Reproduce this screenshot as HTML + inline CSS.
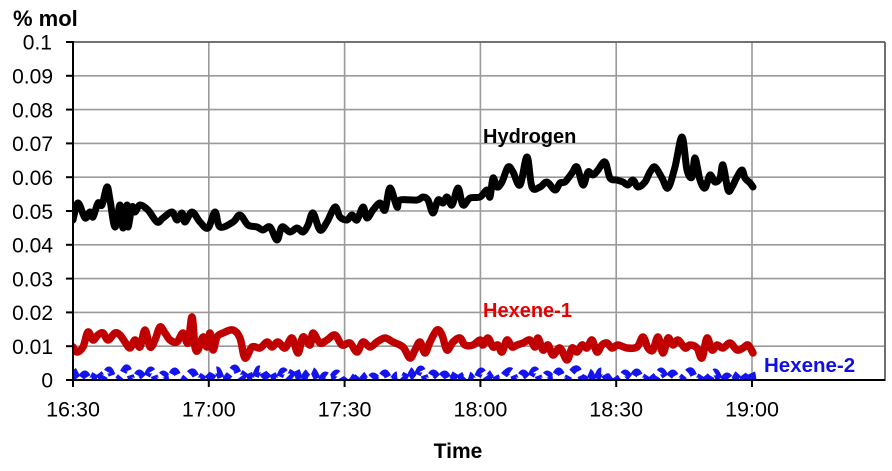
<!DOCTYPE html>
<html><head><meta charset="utf-8"><style>
html,body{margin:0;padding:0;background:#fff;}
svg{display:block;}
text{font-family:"Liberation Sans",Arial,sans-serif;}
</style></head><body>
<svg id="c" width="892" height="471" viewBox="0 0 892 471" xmlns="http://www.w3.org/2000/svg">
<defs><clipPath id="pa"><rect x="73" y="42" width="812" height="338"/></clipPath></defs>
<!-- gridlines -->
<g stroke="#9a9a9a" stroke-width="1.6" fill="none">
<line x1="73" y1="42" x2="885" y2="42"/>
<line x1="73" y1="75.8" x2="885" y2="75.8"/>
<line x1="73" y1="109.6" x2="885" y2="109.6"/>
<line x1="73" y1="143.4" x2="885" y2="143.4"/>
<line x1="73" y1="177.2" x2="885" y2="177.2"/>
<line x1="73" y1="211" x2="885" y2="211"/>
<line x1="73" y1="244.8" x2="885" y2="244.8"/>
<line x1="73" y1="278.6" x2="885" y2="278.6"/>
<line x1="73" y1="312.4" x2="885" y2="312.4"/>
<line x1="73" y1="346.2" x2="885" y2="346.2"/>
<line x1="208.8" y1="42" x2="208.8" y2="380"/>
<line x1="344.6" y1="42" x2="344.6" y2="380"/>
<line x1="480.4" y1="42" x2="480.4" y2="380"/>
<line x1="616.2" y1="42" x2="616.2" y2="380"/>
<line x1="752" y1="42" x2="752" y2="380"/>
</g>
<line x1="885" y1="42" x2="885" y2="381" stroke="#707070" stroke-width="2"/>
<line x1="73" y1="42" x2="885" y2="42" stroke="#555" stroke-width="1.5"/>
<!-- series -->
<g clip-path="url(#pa)" fill="none" stroke-linejoin="round" stroke-linecap="round">
<polyline class="sm" stroke="#1414f0" stroke-width="7" stroke-linecap="butt" stroke-dasharray="9 5" points="73,370 79,379 85,374 91,381 97,372 103,378 109,370 115,381 121,376 127,368 133,381 139,373 145,378 151,370 157,381 163,374 169,378 175,371 181,381 187,376 193,372 199,381 205,373 211,377 217,370 223,381 229,375 235,368 241,378 247,371 253,381 259,369 265,376 271,372 277,381 283,371 289,377 295,369 301,381 307,373 313,371 319,381 325,375 331,378 337,373 343,381 349,376 355,379 361,374 367,381 373,376 379,379 385,373 391,381 397,375 403,379 409,370 415,378 421,369 427,381 433,373 439,378 445,374 451,381 457,372 463,379 469,375 475,381 481,371 487,378 493,373 499,381 505,374 511,371 517,381 523,373 529,378 535,370 541,381 547,374 553,378 559,371 565,381 571,373 577,369 583,379 589,372 595,381 601,371 607,378 613,375 619,381 625,373 631,378 637,372 643,381 649,374 655,379 661,371 667,378 673,373 679,381 685,375 691,371 697,381 703,374 709,379 715,372 721,381 727,376 733,381 739,373 745,378 751,372 753,380"/>
<polyline class="sm" stroke="#c00000" stroke-width="7.5" points="73,347 77,352 83,347 88,332 93,340 98,335 103,333 108,340 115,333 120,335 125,342 130,348 135,340 140,347 145,330 150,347 155,340 160,327 165,333 170,340 177,342 183,333 188,343 192,317 195,347 198,350 203,337 207,347 210,333 213,350 217,337 223,333 233,330 240,338 245,358 252,347 260,348 267,342 272,347 278,342 285,348 292,338 298,353 303,337 310,345 313,333 320,343 327,340 335,335 342,345 350,343 357,352 363,342 370,347 377,342 385,338 393,342 403,347 410,358 415,350 420,342 425,353 430,342 437,330 442,335 447,350 453,342 460,338 465,345 473,345 480,340 483,345 488,338 493,347 498,345 502,352 507,340 512,347 517,345 523,343 530,340 535,347 538,338 543,350 548,345 553,355 560,348 567,360 572,348 577,352 582,345 587,348 592,340 597,352 602,345 607,343 612,348 618,345 627,348 637,347 643,337 648,348 653,350 658,337 663,353 668,338 673,345 678,340 685,348 690,345 697,348 702,358 707,338 712,350 717,345 723,348 730,343 737,350 743,348 748,345 753,353"/>
<polyline class="sm" stroke="#000" stroke-width="7" points="73,220 78,203 85,218 90,212 93,217 98,203 102,205 107,187 110,200 115,227 120,205 123,228 127,205 128,227 132,207 135,212 140,205 148,210 157,222 163,218 172,212 177,220 182,213 185,222 192,212 200,222 208,228 215,212 220,227 233,222 240,215 248,225 257,227 263,230 270,227 277,240 282,227 290,232 297,228 303,232 308,225 313,213 320,230 327,222 335,207 340,217 347,220 352,215 357,220 363,207 367,218 373,210 380,203 385,210 390,188 397,207 400,200 417,200 423,197 428,200 433,213 438,200 443,203 447,197 452,205 458,188 463,205 470,198 480,197 487,190 490,197 493,178 497,187 502,182 508,167 513,172 520,185 527,157 532,187 540,187 547,182 555,190 560,183 565,182 572,173 577,167 583,185 588,172 593,175 598,170 605,162 610,178 617,180 623,182 628,185 633,180 638,187 645,182 650,172 655,167 662,178 668,188 675,167 682,137 687,170 692,177 695,158 700,180 705,188 710,175 715,182 720,178 723,165 728,190 732,187 737,177 742,170 745,178 750,183 753,187"/>
</g>
<!-- axes -->
<g stroke="#000" stroke-width="2" fill="none">
<line x1="73" y1="41" x2="73" y2="381"/>
<line x1="66" y1="380" x2="885" y2="380"/>
<line x1="66" y1="42" x2="73" y2="42"/>
<line x1="66" y1="75.8" x2="73" y2="75.8"/>
<line x1="66" y1="109.6" x2="73" y2="109.6"/>
<line x1="66" y1="143.4" x2="73" y2="143.4"/>
<line x1="66" y1="177.2" x2="73" y2="177.2"/>
<line x1="66" y1="211" x2="73" y2="211"/>
<line x1="66" y1="244.8" x2="73" y2="244.8"/>
<line x1="66" y1="278.6" x2="73" y2="278.6"/>
<line x1="66" y1="312.4" x2="73" y2="312.4"/>
<line x1="66" y1="346.2" x2="73" y2="346.2"/>
<line x1="73" y1="380" x2="73" y2="387"/>
<line x1="208.8" y1="380" x2="208.8" y2="387"/>
<line x1="344.6" y1="380" x2="344.6" y2="387"/>
<line x1="480.4" y1="380" x2="480.4" y2="387"/>
<line x1="616.2" y1="380" x2="616.2" y2="387"/>
<line x1="752" y1="380" x2="752" y2="387"/>
</g>
<!-- y labels -->
<g font-size="21" fill="#000" text-anchor="end">
<text x="52" y="49.5">0.1</text>
<text x="53" y="83.5">0.09</text>
<text x="53" y="117.5">0.08</text>
<text x="53" y="151">0.07</text>
<text x="53" y="185">0.06</text>
<text x="53" y="219">0.05</text>
<text x="53" y="252.5">0.04</text>
<text x="53" y="286.5">0.03</text>
<text x="53" y="320">0.02</text>
<text x="53" y="354">0.01</text>
<text x="53" y="387.5">0</text>
</g>
<!-- x labels -->
<g font-size="21.5" fill="#000" text-anchor="middle">
<text x="73" y="416.5">16:30</text>
<text x="208.8" y="416.5">17:00</text>
<text x="344.6" y="416.5">17:30</text>
<text x="480.4" y="416.5">18:00</text>
<text x="616.2" y="416.5">18:30</text>
<text x="752" y="416.5">19:00</text>
</g>
<text x="13" y="26" font-size="22" font-weight="bold" fill="#000">% mol</text>
<text x="458" y="458" font-size="21" font-weight="bold" fill="#000" text-anchor="middle">Time</text>
<text x="483" y="143" font-size="20" font-weight="bold" fill="#000">Hydrogen</text>
<text x="483" y="317" font-size="20" font-weight="bold" fill="#e60000">Hexene-1</text>
<text x="764" y="372" font-size="20.5" font-weight="bold" fill="#1010e6">Hexene-2</text>
</svg>
<script>
(function(){
  var ns="http://www.w3.org/2000/svg";
  var pls=document.querySelectorAll("polyline.sm");
  for(var k=0;k<pls.length;k++){
    var pl=pls[k];
    var raw=pl.getAttribute("points").trim().split(/\s+/).map(function(s){var a=s.split(",");return [parseFloat(a[0]),parseFloat(a[1])];});
    var d="M"+raw[0][0]+","+raw[0][1];
    for(var i=0;i<raw.length-1;i++){
      var p0=raw[i-1]||raw[i],p1=raw[i],p2=raw[i+1],p3=raw[i+2]||p2;
      var c1x=p1[0]+(p2[0]-p0[0])/6,c1y=p1[1]+(p2[1]-p0[1])/6;
      var c2x=p2[0]-(p3[0]-p1[0])/6,c2y=p2[1]-(p3[1]-p1[1])/6;
      d+=" C"+c1x.toFixed(2)+","+c1y.toFixed(2)+" "+c2x.toFixed(2)+","+c2y.toFixed(2)+" "+p2[0]+","+p2[1];
    }
    var p=document.createElementNS(ns,"path");
    p.setAttribute("d",d);
    ["stroke","stroke-width","stroke-dasharray","stroke-linecap"].forEach(function(a){var v=pl.getAttribute(a);if(v)p.setAttribute(a,v);});
    pl.parentNode.replaceChild(p,pl);
  }
})();
</script>
</body></html>
